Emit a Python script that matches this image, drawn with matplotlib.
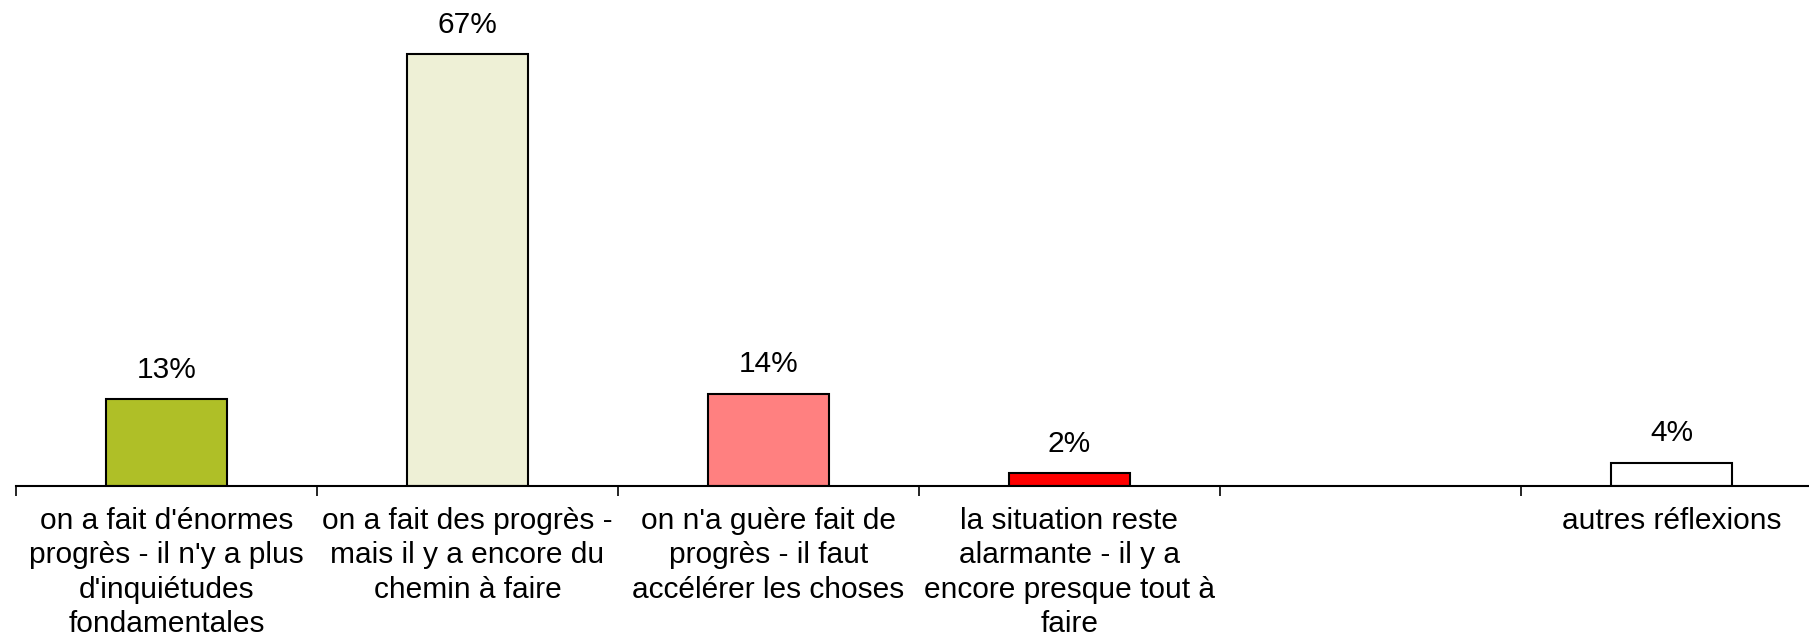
import numpy as np
import matplotlib
matplotlib.use('Agg')
from matplotlib import pyplot as plt

categories = ["on a fait d'énormes\nprogrès - il n'y a plus\nd'inquiétudes\nfondamentales",
              "on a fait des progrès -\nmais il y a encore du\nchemin à faire",
              "on n'a guère fait de\nprogrès - il faut\naccélérer les choses",
              "la situation reste\nalarmante - il y a\nencore presque tout à\nfaire",
              "",
              "autres réflexions"]
values = [13.4, 67, 14.3, 2.0, None, 3.6]
colors = ['#AFBF27', '#EEF0D6', '#FF8080', '#FF0000', 'white', 'white']

plt.rcParams['font.family'] = ['Liberation Sans', 'DejaVu Sans']

fig = plt.figure(figsize=(18.09, 6.37), dpi=100)
# l'axe dépasse à droite comme dans l'original
ax = fig.add_axes([16/1809, 151.3/637, 1806/1809, 483/637])

x = np.arange(len(categories))
for i, v in enumerate(values):
    if v is None:
        continue
    ax.bar(x[i], v, width=0.4, color=colors[i], edgecolor='black', linewidth=1.5)
    ax.annotate('%.0f%%' % v, (x[i], v), xytext=(0, 11), textcoords='offset points',
                ha='center', va='bottom', fontsize=21.5)

ax.set_xlim(-0.5, len(categories) - 0.5)
ax.set_ylim(0, 75)
ax.set_yticks([])
for s in ['left', 'right', 'top']:
    ax.spines[s].set_visible(False)
ax.spines['bottom'].set_linewidth(1.5)

ax.set_xticks(x)
ax.set_xticklabels(categories, fontsize=21.5, linespacing=1.3)
ax.tick_params(axis='x', which='major', length=0, pad=15)
ax.set_xticks(np.arange(-0.5, len(categories)), minor=True)
ax.tick_params(axis='x', which='minor', length=7, width=1.2, direction='out')

plt.savefig('out.png', dpi=100)
